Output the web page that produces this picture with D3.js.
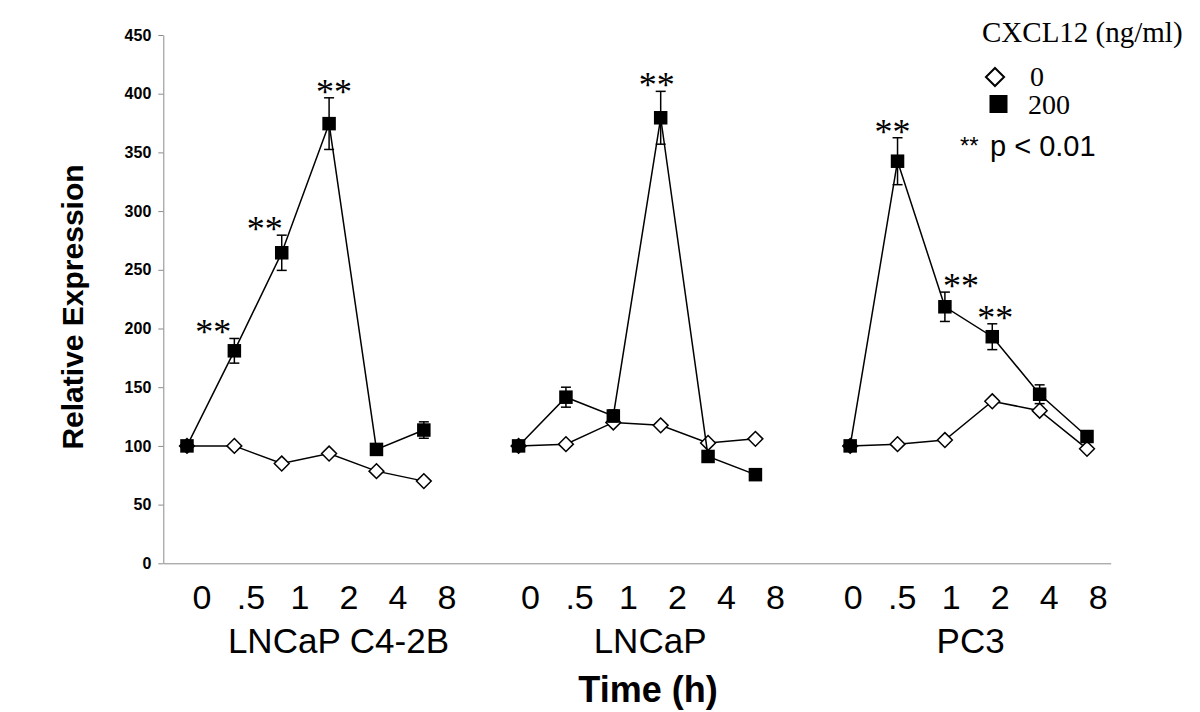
<!DOCTYPE html>
<html>
<head>
<meta charset="utf-8">
<script src="https://cdn.jsdelivr.net/npm/d3@7"></script>
<style>
  html, body { margin: 0; padding: 0; background: #fff; }
  svg { display: block; }
</style>
</head>
<body>
<svg id="chart" width="1200" height="712"></svg>
<script>
// ---------------- data ----------------
const timeLabels = ["0", ".5", "1", "2", "4", "8"];
const cellLines = ["LNCaP C4-2B", "LNCaP", "PC3"];
// CXCL12 0 ng/ml (open diamonds), one row per cell line
const control = [
  [100, 100, 85, 93.5, 78.5, 70],
  [100, 101.5, 120, 117.5, 102.5, 106],
  [100, 101.5, 105, 138, 130, 97.5]
];
// CXCL12 200 ng/ml (filled squares)
const treated = [
  [100, 181, 264.5, 374.5, 97, 113.5],
  [100, 141.5, 125.5, 379.5, 91, 75.5],
  [100, 342.5, 218.5, 193, 144, 108]
];
const treatedErr = [
  [0, 10.5, 15, 22, 4, 7],
  [0, 8.5, 5, 22.5, 4, 3],
  [0, 20, 12.5, 11, 8, 4]
];
// ** p < 0.01 flags for treated points
const significant = [
  [0, 1, 1, 1, 0, 0],
  [0, 0, 0, 1, 0, 0],
  [0, 1, 1, 1, 0, 0]
];
const yTicks = [0, 50, 100, 150, 200, 250, 300, 350, 400, 450];
const legendTitle = "CXCL12 (ng/ml)";
const legendLabels = ["0", "200"];
const sigLabel = "p < 0.01";

// ---------------- layout ----------------
const svg = d3.select("#chart");
const mLeft = 163.3, mRight = 1110.7, mTop = 35, mBottom = 563.3;
const gap = 1; // empty slot between cell lines
const nT = timeLabels.length;
const slots = d3.range(cellLines.length * nT + (cellLines.length - 1) * gap);
const slotOf = (p, j) => p * (nT + gap) + j;

const x = d3.scalePoint().domain(slots).range([mLeft, mRight]).padding(0.5);
const y = d3.scaleLinear().domain([0, 450]).range([mBottom, mTop]);

const axisColor = "#8a8a8a";
const sans = "'Liberation Sans', Arial, sans-serif";
const serif = "'Liberation Serif', 'Times New Roman', serif";

// y axis
const yAxis = svg.append("g")
  .attr("transform", `translate(${mLeft},0)`)
  .call(d3.axisLeft(y).tickValues(yTicks).tickSize(5).tickSizeOuter(0).tickPadding(7));
yAxis.select(".domain").attr("stroke", axisColor);
yAxis.selectAll(".tick line").attr("stroke", axisColor);
yAxis.selectAll(".tick text")
  .attr("fill", "#000").style("font-family", sans)
  .style("font-size", "16px").style("font-weight", "bold");

// x axis (baseline only)
const xAxis = svg.append("g")
  .attr("transform", `translate(0,${mBottom})`)
  .call(d3.axisBottom(x).tickSize(0).tickSizeOuter(0).tickFormat(""));
xAxis.select(".domain").attr("stroke", axisColor);
xAxis.selectAll(".tick").remove();

// time tick labels & cell line names
const labelOffset = [15, 12, 3];
const labelStep = 49;
const nameOffset = [14, -3, -5];
cellLines.forEach((name, p) => {
  const x0 = x(slotOf(p, 0)) + labelOffset[p];
  const lx = d3.scalePoint().domain(timeLabels).range([x0, x0 + labelStep * (nT - 1)]);
  svg.append("g").selectAll("text").data(timeLabels).join("text")
    .attr("x", d => lx(d)).attr("y", 609)
    .attr("text-anchor", "middle")
    .style("font-family", sans).style("font-size", "34px")
    .text(d => d);
  svg.append("text")
    .attr("x", (lx.range()[0] + lx.range()[1]) / 2 + nameOffset[p]).attr("y", 653)
    .attr("text-anchor", "middle")
    .style("font-family", sans).style("font-size", "35px")
    .text(name);
});

// axis titles
svg.append("text")
  .attr("x", 648).attr("y", 702)
  .attr("text-anchor", "middle")
  .style("font-family", sans).style("font-size", "36px").style("font-weight", "bold")
  .text("Time (h)");
svg.append("text")
  .attr("transform", "translate(83,307) rotate(-90)")
  .attr("text-anchor", "middle")
  .style("font-family", sans).style("font-size", "30px").style("font-weight", "bold")
  .text("Relative Expression");

// ---------------- series ----------------
const line = d3.line().x(d => x(d.slot)).y(d => y(d.v));
const diamond = d3.symbol().type(d3.symbolDiamond2).size(140);
// horizontal nudge of the ** annotation relative to its point (layout only)
const starNudge = [
  [0, -21, -17, 5, 0, 0],
  [0, 0, 0, -4, 0, 0],
  [0, -5, 16, 3, 0, 0]
];

const plot = svg.append("g");
cellLines.forEach((name, p) => {
  const c = control[p].map((v, j) => ({ slot: slotOf(p, j), v }));
  const t = treated[p].map((v, j) => ({ slot: slotOf(p, j), j, v, e: treatedErr[p][j], s: significant[p][j] }));

  // control series
  plot.append("path").datum(c).attr("d", line)
    .attr("fill", "none").attr("stroke", "#000").attr("stroke-width", 1.5);
  plot.append("g").selectAll("path").data(c).join("path")
    .attr("transform", d => `translate(${x(d.slot)},${y(d.v)})`)
    .attr("d", diamond)
    .attr("fill", "#fff").attr("stroke", "#000").attr("stroke-width", 1.5);

  // treated series
  plot.append("path").datum(t).attr("d", line)
    .attr("fill", "none").attr("stroke", "#000").attr("stroke-width", 1.5);
  const eb = plot.append("g").selectAll("g").data(t.filter(d => d.e > 0)).join("g")
    .attr("stroke", "#000").attr("stroke-width", 1.5);
  eb.append("line")
    .attr("x1", d => x(d.slot)).attr("x2", d => x(d.slot))
    .attr("y1", d => y(d.v - d.e)).attr("y2", d => y(d.v + d.e));
  eb.append("line")
    .attr("x1", d => x(d.slot) - 5).attr("x2", d => x(d.slot) + 5)
    .attr("y1", d => y(d.v + d.e)).attr("y2", d => y(d.v + d.e));
  eb.append("line")
    .attr("x1", d => x(d.slot) - 5).attr("x2", d => x(d.slot) + 5)
    .attr("y1", d => y(d.v - d.e)).attr("y2", d => y(d.v - d.e));
  const sq = 13.5;
  plot.append("g").selectAll("rect").data(t).join("rect")
    .attr("x", d => x(d.slot) - sq / 2).attr("y", d => y(d.v) - sq / 2)
    .attr("width", sq).attr("height", sq).attr("fill", "#000");

  // significance stars
  plot.append("g").selectAll("text").data(t.filter(d => d.s)).join("text")
    .attr("x", d => x(d.slot) + starNudge[p][d.j]).attr("y", d => y(d.v + d.e) + 6)
    .attr("text-anchor", "middle")
    .style("font-family", serif).style("font-size", "36px")
    .text("**");
});

// ---------------- legend ----------------
const lg = svg.append("g");
lg.append("text").attr("x", 982).attr("y", 42)
  .style("font-family", serif).style("font-size", "29px").text(legendTitle);
lg.append("path")
  .attr("transform", "translate(995,77)")
  .attr("d", d3.symbol().type(d3.symbolDiamond2).size(210))
  .attr("fill", "#fff").attr("stroke", "#000").attr("stroke-width", 2);
lg.append("text").attr("x", 1030).attr("y", 86)
  .style("font-family", serif).style("font-size", "28px").text(legendLabels[0]);
lg.append("rect").attr("x", 989.5).attr("y", 95).attr("width", 18).attr("height", 18).attr("fill", "#000");
lg.append("text").attr("x", 1028).attr("y", 114)
  .style("font-family", serif).style("font-size", "28px").text(legendLabels[1]);
lg.append("text").attr("x", 960).attr("y", 154)
  .style("font-family", sans).style("font-size", "24px").text("**");
lg.append("text").attr("x", 990).attr("y", 156)
  .style("font-family", sans).style("font-size", "29px").text(sigLabel);
</script>
</body>
</html>
